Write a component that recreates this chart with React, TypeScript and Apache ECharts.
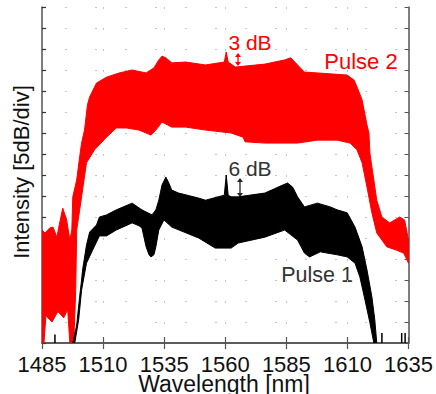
import React, { useEffect, useRef } from "react";
import * as echarts from "echarts";

// Wavelength axis (nm) and intensity axis (dB, 5 dB/div)
const xMin = 1485;
const xMax = 1635;
const xStep = 25;
const yMin = 0;
const yMax = 80;
const yStep = 5;

// Pulse 2 (red) spectrum envelope: [wavelength nm, intensity dB]
const pulse2Upper: [number, number][] = [
  [1485.0, 26.9], [1486.2, 26.2], [1488.2, 27.4], [1489.5, 27.6], [1491.1, 25.2],
  [1492.3, 28.8], [1493.5, 32.1], [1495.1, 29.3], [1496.4, 24.5], [1497.2, 26.9],
  [1497.6, 34.8], [1499.2, 38.8], [1500.4, 44.3], [1501.2, 47.6], [1502.4, 50.7],
  [1503.6, 56.7], [1504.5, 58.6], [1507.3, 61.9], [1511.4, 63.3], [1516.6, 64.3],
  [1521.9, 65.0], [1527.6, 64.3], [1530.8, 65.5], [1532.8, 67.4], [1534.1, 68.3],
  [1535.7, 67.9], [1538.1, 66.7], [1543.8, 66.9], [1551.9, 66.2], [1559.6, 66.9],
  [1560.4, 69.3], [1561.2, 66.9], [1564.1, 65.7], [1576.2, 66.4], [1584.3, 67.4],
  [1586.8, 67.9], [1589.6, 66.2], [1592.4, 64.5], [1597.7, 64.3], [1609.9, 63.8],
  [1612.7, 62.6], [1613.9, 61.0], [1616.0, 57.9], [1616.8, 55.5], [1618.0, 51.9],
  [1618.8, 50.0], [1619.2, 45.2], [1620.8, 38.8], [1622.0, 34.0], [1624.1, 30.0],
  [1627.3, 28.6], [1631.4, 30.0], [1633.4, 29.3], [1635.0, 24.5],
];
const pulse2Lower: [number, number][] = [
  [1485.0, 0], [1485.8, 0], [1486.6, 6.5], [1489.1, 5.0], [1491.5, 7.5],
  [1493.9, 6.0], [1495.5, 8.0], [1496.4, 0], [1498.0, 0], [1498.8, 12.6],
  [1499.2, 26.9], [1501.2, 34.8], [1503.2, 42.9], [1506.5, 46.0], [1511.4, 49.0],
  [1515.4, 51.2], [1519.5, 51.2], [1524.7, 50.7], [1529.6, 49.5], [1531.6, 50.7],
  [1534.1, 52.6], [1538.1, 51.4], [1543.8, 51.4], [1551.9, 50.7], [1562.4, 50.0],
  [1567.3, 49.0], [1568.1, 47.9], [1576.2, 47.6], [1589.6, 47.6], [1597.7, 48.3],
  [1605.8, 48.3], [1611.1, 47.6], [1613.9, 46.0], [1616.0, 42.9], [1618.0, 37.1],
  [1620.0, 31.0], [1622.0, 26.2], [1626.1, 22.9], [1630.1, 22.1], [1633.0, 21.4],
  [1635.0, 19.0],
];

// Pulse 1 (black) spectrum envelope
const pulse1Upper: [number, number][] = [
  [1497.6, 0], [1499.2, 4.3], [1500.4, 11.0], [1501.2, 15.0], [1501.6, 17.4],
  [1503.2, 23.3], [1504.5, 26.4], [1507.3, 28.1], [1508.5, 30.0], [1511.4, 30.5],
  [1515.4, 31.7], [1521.9, 33.3], [1525.9, 31.7], [1530.0, 30.5], [1531.6, 31.7],
  [1532.8, 34.0], [1534.1, 37.6], [1535.7, 39.5], [1536.9, 38.1], [1538.1, 36.4],
  [1540.9, 35.7], [1549.1, 34.5], [1551.9, 34.0], [1559.6, 35.2], [1560.4, 40.0],
  [1561.2, 35.2], [1562.4, 34.8], [1565.3, 34.8], [1576.2, 35.7], [1583.5, 37.6],
  [1585.5, 38.1], [1587.6, 37.1], [1589.6, 34.8], [1592.4, 32.4], [1597.7, 33.3],
  [1603.0, 32.4], [1605.8, 31.7], [1609.9, 31.0], [1613.1, 27.6], [1616.0, 22.9],
  [1618.0, 17.4], [1620.0, 11.0], [1621.2, 5.5], [1622.0, 0],
];
const pulse1Lower: [number, number][] = [
  [1498.4, 0], [1500.0, 5.5], [1501.2, 12.6], [1503.2, 19.0], [1505.7, 22.1],
  [1508.5, 25.5], [1511.4, 25.5], [1515.4, 26.9], [1521.9, 28.6], [1524.7, 27.9],
  [1525.9, 27.4], [1527.6, 22.9], [1528.8, 21.0], [1529.6, 20.5], [1530.8, 21.0],
  [1531.6, 22.9], [1532.8, 26.9], [1534.9, 29.3], [1538.1, 27.6], [1549.1, 25.0],
  [1555.9, 22.6], [1562.4, 22.6], [1565.3, 23.8], [1576.2, 25.2], [1584.3, 26.9],
  [1589.6, 24.5], [1592.4, 21.4], [1594.5, 20.5], [1598.9, 21.7], [1605.8, 21.0],
  [1609.9, 20.5], [1613.1, 19.0], [1615.1, 15.7], [1617.2, 10.2], [1619.2, 4.8],
  [1620.8, 0],
];
// isolated noise spikes of Pulse 1 near the floor
const pulse1Spikes: [number, number][] = [
  [1490.3, 2.0], [1624.1, 2.4], [1632.2, 2.4], [1633.6, 2.4],
];

const RED = "#ff0000";
const BLACK = "#000000";

function bandSeries(upper: [number, number][], lower: [number, number][], color: string) {
  return {
    type: "custom",
    silent: true,
    clip: true,
    data: [upper[0]],
    renderItem: (params: any, api: any) => {
      if (params.dataIndex !== 0) return null;
      const pts = upper.concat(lower.slice().reverse()).map((p) => api.coord(p));
      return {
        type: "polygon",
        shape: { points: pts },
        style: { fill: color, stroke: color, lineWidth: 1 },
      };
    },
  };
}

function spikeSeries(spikes: [number, number][], color: string) {
  return {
    type: "custom",
    silent: true,
    clip: true,
    data: spikes,
    renderItem: (params: any, api: any) => {
      const x = api.value(0);
      const v = api.value(1);
      const a = api.coord([x, 0]);
      const b = api.coord([x, v]);
      return {
        type: "line",
        shape: { x1: a[0], y1: a[1], x2: b[0], y2: b[1] },
        style: { stroke: color, lineWidth: 1.5 },
      };
    },
  };
}

function arrow(x: number, y1: number, y2: number, color: string) {
  const h = 4;
  const w = 3;
  return [
    { type: "line", shape: { x1: x, y1: y1 + h, x2: x, y2: y2 - h }, style: { stroke: color, lineWidth: 1.3 } },
    { type: "polygon", shape: { points: [[x, y1], [x - w, y1 + h], [x + w, y1 + h]] }, style: { fill: color } },
    { type: "polygon", shape: { points: [[x, y2], [x - w, y2 - h], [x + w, y2 - h]] }, style: { fill: color } },
  ];
}

const FONT = "'Liberation Sans', Arial, Helvetica, sans-serif";

export default function App() {
  const ref = useRef<HTMLDivElement>(null);
  useEffect(() => {
    if (!ref.current) return;
    const chart = echarts.init(ref.current, null, { renderer: "svg" });
    const axisLine = { show: true, lineStyle: { color: "#555", width: 1.5 } };
    chart.setOption({
      animation: false,
      backgroundColor: "#ffffff",
      grid: { left: 42, right: 24, top: 7, bottom: 51 },
      xAxis: [
        {
          type: "value",
          min: xMin,
          max: xMax,
          interval: xStep,
          axisLine: { show: true, lineStyle: { color: "#777", width: 2 } },
          axisTick: { show: true, inside: true, length: 6, lineStyle: { color: "#555", width: 1.2 } },
          axisLabel: {
            show: true,
            margin: 12,
            fontSize: 22,
            lineHeight: 18,
            color: "#111",
            fontFamily: FONT,
            formatter: (v: number) => String(v),
          },
          splitLine: { show: true, lineStyle: { color: "#c4c4c4", width: 1, type: [2, 19], dashOffset: 0 } },
        },
        {
          type: "value",
          position: "top",
          min: xMin,
          max: xMax,
          interval: xStep,
          axisLine,
          axisTick: { show: true, inside: true, length: 6, lineStyle: { color: "#555", width: 1.2 } },
          axisLabel: { show: false },
          splitLine: { show: false },
        },
      ],
      yAxis: [
        {
          type: "value",
          min: yMin,
          max: yMax,
          interval: yStep,
          axisLine,
          axisTick: { show: true, inside: true, length: 4, lineStyle: { color: "#333", width: 1.2 } },
          axisLabel: { show: false },
          splitLine: { show: true, lineStyle: { color: "#c4c4c4", width: 1, type: [2, 28], dashOffset: 7 } },
        },
        {
          type: "value",
          position: "right",
          min: yMin,
          max: yMax,
          interval: yStep,
          axisLine,
          axisTick: { show: true, inside: true, length: 4, lineStyle: { color: "#555", width: 1 } },
          axisLabel: { show: false },
          splitLine: { show: false },
        },
      ],
      series: [
        bandSeries(pulse2Upper, pulse2Lower, RED),
        bandSeries(pulse1Upper, pulse1Lower, BLACK),
        spikeSeries(pulse1Spikes, BLACK),
      ],
      graphic: [
        {
          type: "text",
          x: 21,
          y: 172,
          rotation: Math.PI / 2,
          style: { text: "Intensity [5dB/div]", fontSize: 22, fill: "#111", fontFamily: FONT, textAlign: "center", textVerticalAlign: "middle" },
        },
        {
          type: "text",
          x: 224,
          y: 384,
          style: { text: "Wavelength [nm]", fontSize: 23, lineHeight: 18, fill: "#111", fontFamily: FONT, textAlign: "center", textVerticalAlign: "middle" },
        },
        {
          type: "text",
          x: 250,
          y: 42,
          style: { text: "3 dB", fontSize: 21, fill: RED, fontFamily: FONT, textAlign: "center", textVerticalAlign: "middle" },
        },
        {
          type: "text",
          x: 361,
          y: 61,
          style: { text: "Pulse 2", fontSize: 22, fill: RED, fontFamily: FONT, textAlign: "center", textVerticalAlign: "middle" },
        },
        {
          type: "text",
          x: 250,
          y: 168,
          style: { text: "6 dB", fontSize: 21, fill: "#333", fontFamily: FONT, textAlign: "center", textVerticalAlign: "middle" },
        },
        {
          type: "text",
          x: 317,
          y: 275,
          style: { text: "Pulse 1", fontSize: 21.5, fill: "#333", fontFamily: FONT, textAlign: "center", textVerticalAlign: "middle" },
        },
        ...arrow(238, 53, 66, RED),
        ...arrow(240, 178, 197, "#222"),
      ],
    });
    return () => chart.dispose();
  }, []);
  return <div ref={ref} style={{ width: 436, height: 394, position: "absolute", left: 0, top: 0 }} />;
}
